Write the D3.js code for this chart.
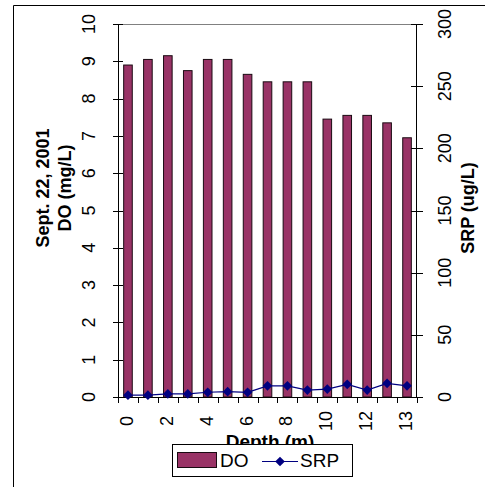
<!DOCTYPE html>
<html>
<head>
<meta charset="utf-8">
<script src="https://cdn.jsdelivr.net/npm/d3@7"></script>
<style>
  body { margin: 0; background: #fff; }
  text { font-family: Arial, "Liberation Sans", sans-serif; fill: #000; }
</style>
</head>
<body>
<script>
var width = 485,
    height = 487;

// depth categories (m), the 14th one is an unlabelled sample
var depths = ["0","1","2","3","4","5","6","7","8","9","10","11","12","12.5","13"];
var doValues = [8.9, 9.05, 9.15, 8.75, 9.05, 9.05, 8.65, 8.45, 8.45, 8.45, 7.45, 7.55, 7.55, 7.35, 6.95];
var srpValues = [1.5, 1.5, 2.5, 2.5, 3.8, 4.3, 3.8, 9, 9, 5.6, 6.4, 10.2, 5.6, 11, 9];
var xLabels = ["0","2","4","6","8","10","12","13"];
var doTicks = [0,1,2,3,4,5,6,7,8,9,10];
var srpTicks = [0,50,100,150,200,250,300];

var svg = d3.select("body").append("svg")
            .attr("width", width)
            .attr("height", height)

// outer frame (only top and left edges show)
svg.append("path")
   .attr("d", "M13.5,487V5.5H485")
   .attr("fill", "none")
   .attr("stroke", "#000")

var pLeft = 118, pRight = 417, pTop = 24, pBottom = 397;

var xc = d3.scalePoint()
           .domain(depths)
           .range([pLeft, pRight])
           .padding(0.5)

var step = (pRight - pLeft) / depths.length;

var yDO = d3.scaleLinear().domain([0, 10]).range([pBottom, pTop]);
var ySRP = d3.scaleLinear().domain([0, 300]).range([pBottom, pTop]);

// plot top border
svg.append("line")
   .attr("x1", pLeft).attr("x2", pRight)
   .attr("y1", pTop + 0.5).attr("y2", pTop + 0.5)
   .attr("stroke", "#808080")

// bars
svg.selectAll("rect.bar")
   .data(doValues)
   .enter()
   .append("rect")
   .attr("class", "bar")
   .attr("x", function(d, i){ return xc(depths[i]) - 4.3; })
   .attr("width", 8.6)
   .attr("y", function(d){ return yDO(d); })
   .attr("height", function(d){ return pBottom - yDO(d); })
   .attr("fill", "#993366")
   .attr("stroke", "#1a0a12")
   .attr("stroke-width", 1)

// left axis
var gL = svg.append("g").attr("transform", "translate(" + pLeft + ",0)");
gL.append("line").attr("x1", 0.5).attr("x2", 0.5).attr("y1", pTop).attr("y2", pBottom).attr("stroke", "#000");
gL.selectAll("line.t").data(doTicks).enter().append("line")
  .attr("class", "t")
  .attr("x1", -5).attr("x2", 5)
  .attr("y1", function(d){ return Math.round(yDO(d)) + 0.5; })
  .attr("y2", function(d){ return Math.round(yDO(d)) + 0.5; })
  .attr("stroke", "#000")
gL.selectAll("text").data(doTicks).enter().append("text")
  .attr("transform", function(d){ return "translate(-29.5," + yDO(d) + ") rotate(-90)"; })
  .attr("text-anchor", "middle")
  .attr("dominant-baseline", "central")
  .style("font-size", "18px")
  .text(function(d){ return d; })

// right axis
var gR = svg.append("g").attr("transform", "translate(" + pRight + ",0)");
gR.append("line").attr("x1", -0.5).attr("x2", -0.5).attr("y1", pTop).attr("y2", pBottom).attr("stroke", "#000");
gR.selectAll("line.t").data(srpTicks).enter().append("line")
  .attr("class", "t")
  .attr("x1", -6).attr("x2", 6)
  .attr("y1", function(d){ return Math.round(ySRP(d)) + 0.5; })
  .attr("y2", function(d){ return Math.round(ySRP(d)) + 0.5; })
  .attr("stroke", "#000")
gR.selectAll("text").data(srpTicks).enter().append("text")
  .attr("transform", function(d){ return "translate(27.5," + ySRP(d) + ") rotate(-90)"; })
  .attr("text-anchor", "middle")
  .attr("dominant-baseline", "central")
  .style("font-size", "18px")
  .text(function(d){ return d; })

// x axis
svg.append("line")
   .attr("x1", pLeft).attr("x2", pRight + 6)
   .attr("y1", pBottom + 0.5).attr("y2", pBottom + 0.5)
   .attr("stroke", "#000")
var bounds = d3.range(depths.length + 1).map(function(i){ return pLeft + i * step; });
svg.selectAll("line.xt").data(bounds).enter().append("line")
   .attr("class", "xt")
   .attr("x1", function(d){ return Math.round(d) + 0.5; })
   .attr("x2", function(d){ return Math.round(d) + 0.5; })
   .attr("y1", pBottom).attr("y2", pBottom + 6)
   .attr("stroke", "#000")
var labelIdx = [0, 2, 4, 6, 8, 10, 12, 14];
svg.selectAll("text.xl").data(labelIdx).enter().append("text")
   .attr("class", "xl")
   .attr("transform", function(d){ return "translate(" + (xc(depths[d]) - 1) + ",421) rotate(-90)"; })
   .attr("text-anchor", "middle")
   .attr("dominant-baseline", "central")
   .style("font-size", "18px")
   .text(function(d, i){ return xLabels[i]; })

// SRP line
var line = d3.line()
             .x(function(d, i){ return xc(depths[i]); })
             .y(function(d){ return ySRP(d); })
svg.append("path")
   .datum(srpValues)
   .attr("d", line)
   .attr("fill", "none")
   .attr("stroke", "#000080")
   .attr("stroke-width", 1.2)
var diamond = d3.symbol().type(d3.symbolDiamond2).size(60);
svg.selectAll("path.m").data(srpValues).enter().append("path")
   .attr("class", "m")
   .attr("d", diamond)
   .attr("transform", function(d, i){ return "translate(" + xc(depths[i]) + "," + ySRP(d) + ")"; })
   .attr("fill", "#000080")

// axis titles
svg.append("text")
   .attr("transform", "translate(43,188) rotate(-90)")
   .attr("text-anchor", "middle")
   .attr("dominant-baseline", "central")
   .style("font-size", "18px").style("font-weight", "bold")
   .text("Sept. 22, 2001")
svg.append("text")
   .attr("transform", "translate(65,188) rotate(-90)")
   .attr("text-anchor", "middle")
   .attr("dominant-baseline", "central")
   .style("font-size", "18px").style("font-weight", "bold")
   .text("DO (mg/L)")
svg.append("text")
   .attr("transform", "translate(468,208) rotate(-90)")
   .attr("text-anchor", "middle")
   .attr("dominant-baseline", "central")
   .style("font-size", "18px").style("font-weight", "bold")
   .text("SRP (ug/L)")
svg.append("text")
   .attr("x", 270).attr("y", 448)
   .attr("text-anchor", "middle")
   .style("font-size", "19px").style("font-weight", "bold")
   .text("Depth (m)")

// legend
var lg = svg.append("g");
lg.append("rect")
  .attr("x", 172.5).attr("y", 444.5).attr("width", 180).attr("height", 32)
  .attr("fill", "#fff").attr("stroke", "#000")
lg.append("rect")
  .attr("x", 177.5).attr("y", 452.5).attr("width", 39).attr("height", 15)
  .attr("fill", "#993366").attr("stroke", "#1a0a12")
lg.append("text").attr("x", 220).attr("y", 467).style("font-size", "19px").text("DO")
lg.append("line")
  .attr("x1", 262).attr("x2", 298).attr("y1", 461.5).attr("y2", 461.5)
  .attr("stroke", "#000080").attr("stroke-width", 1.2)
lg.append("path")
  .attr("d", diamond)
  .attr("transform", "translate(280,461.5)")
  .attr("fill", "#000080")
lg.append("text").attr("x", 300).attr("y", 467).style("font-size", "19px").text("SRP")
</script>
</body>
</html>
